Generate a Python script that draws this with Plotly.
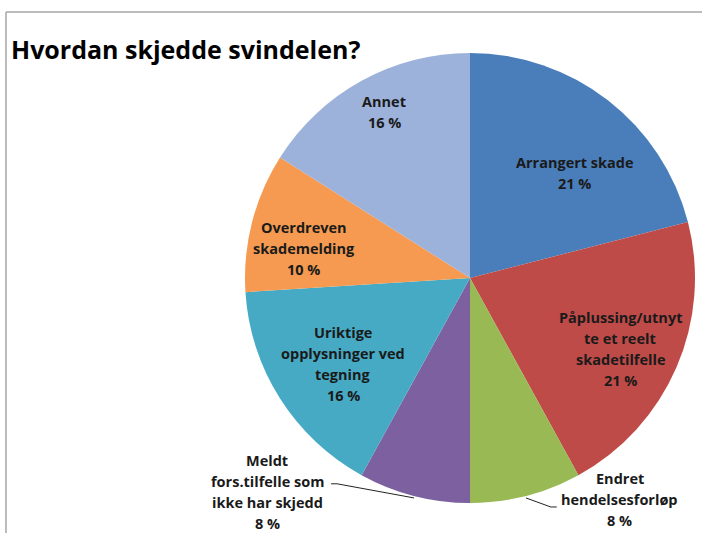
import math
import plotly.graph_objects as go

# ---- data ----
labels = ["Arrangert skade", "Påplussing/utnytte et reelt skadetilfelle", "Endret hendelsesforløp",
          "Meldt fors.tilfelle som ikke har skjedd", "Uriktige opplysninger ved tegning",
          "Overdreven skademelding", "Annet"]
label_lines = [["Arrangert skade"], ["Påplussing/utnyt", "te et reelt", "skadetilfelle"],
               ["Endret", "hendelsesforløp"], ["Meldt", "fors.tilfelle som", "ikke har skjedd"],
               ["Uriktige", "opplysninger ved", "tegning"], ["Overdreven", "skademelding"], ["Annet"]]
values = [21, 21, 8, 8, 16, 10, 16]
colors = ["#4A7EBB", "#BE4B48", "#98B954", "#7D60A0", "#46AAC5", "#F59A50", "#9DB2DA"]

# ---- layout constants ----
W, H = 702, 533
cx, cy, R = 470, 278, 225
# label placement: (radius fraction, angle offset deg)
place = [(0.66, 7.0), (0.74, 2.0), (1.19, -19.6), (1.31, 29.1), (0.68, -1.6), (0.75, -4.4), (0.83, 1.4)]
LH = 21
FONT = "Open Sans"
TXT = "#1a1a1a"


def px(x, y):
    return x / W, 1 - y / H


fig = go.Figure(go.Pie(
    labels=labels, values=values, sort=False, direction="clockwise", rotation=0,
    marker=dict(colors=colors, line=dict(width=0)), textinfo="none", hoverinfo="label+percent",
    showlegend=False,
    domain=dict(x=[(cx - R) / W, (cx + R) / W], y=[1 - (cy + R) / H, 1 - (cy - R) / H]),
))

annotations = []
shapes = []
total = sum(values)
cum = 0
for i, v in enumerate(values):
    mid = (cum + v / 2) / total * 360
    cum += v
    rf, off = place[i]
    a = math.radians(mid + off)
    lx = cx + rf * R * math.sin(a)
    ly = cy - rf * R * math.cos(a)
    lines = label_lines[i] + [f"{v} %"]
    n = len(lines)
    for k, t in enumerate(lines):
        yy = ly + (k - (n - 1) / 2) * LH
        xp, yp = px(lx, yy)
        annotations.append(dict(x=xp, y=yp, xref="paper", yref="paper", text=t, showarrow=False,
                                xanchor="center", yanchor="middle",
                                font=dict(family=FONT, size=14.5, color=TXT, weight="bold")))
    if rf > 1:
        am = math.radians(mid)
        ex = cx + R * math.sin(am)
        ey = cy - R * math.cos(am) + 2
        if lx > cx:
            kx, ky, tx = lx - 69, ly + 7, lx - 63
        else:
            kx, ky, tx = lx + 70, ly - 8, lx + 64
        pts = [(ex, ey), (kx, ky), (tx, ky)]
        pp = [px(a_, b_) for a_, b_ in pts]
        shapes.append(dict(type="path", xref="paper", yref="paper",
                           path="M " + " L ".join(f"{p[0]},{p[1]}" for p in pp),
                           line=dict(color="#222222", width=1)))

# outer frame (top and left edges of the chart area)
fx0, fy0 = px(6, 12)
fx1, fy1 = px(W, H)
shapes.append(dict(type="line", xref="paper", yref="paper", x0=fx0, y0=fy0, x1=fx1, y1=fy0,
                   line=dict(color="#A6A6A6", width=1.5), layer="below"))
shapes.append(dict(type="line", xref="paper", yref="paper", x0=fx0, y0=fy0, x1=fx0, y1=fy1,
                   line=dict(color="#A6A6A6", width=1.5), layer="below"))

tx_, ty_ = px(9, 49)
annotations.append(dict(x=tx_, y=ty_, xref="paper", yref="paper", text="Hvordan skjedde svindelen?",
                        showarrow=False, xanchor="left", yanchor="middle",
                        font=dict(family=FONT, size=25, color="#000000", weight="bold")))

fig.update_layout(width=W, height=H, margin=dict(l=0, r=0, t=0, b=0),
                  paper_bgcolor="white", plot_bgcolor="white",
                  annotations=annotations, shapes=shapes)
fig.write_html("out.html", config={"displayModeBar": False},
               post_script="document.body.style.margin='0';document.body.style.overflow='hidden';")
